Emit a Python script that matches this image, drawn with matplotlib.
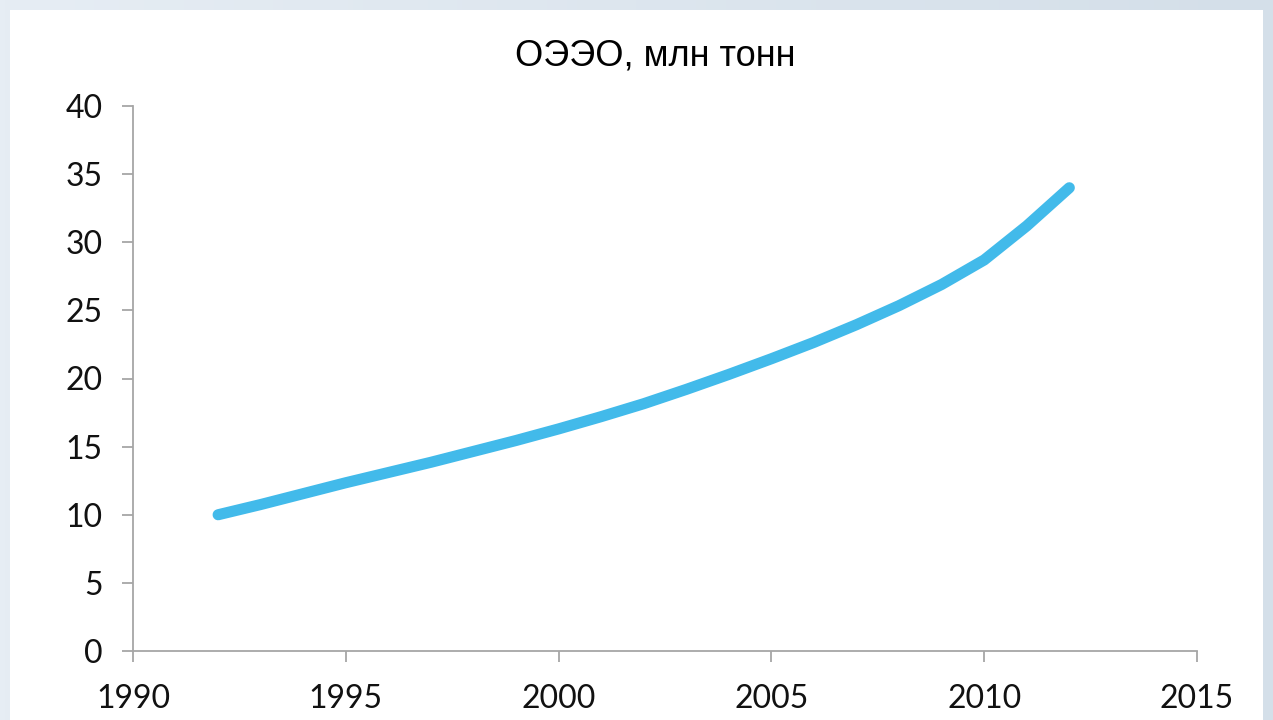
import matplotlib.pyplot as plt
from matplotlib.patches import Rectangle
import numpy as np

# ОЭЭО по годам, млн тонн
years = [1992, 1993, 1994, 1995, 1996, 1997, 1998, 1999, 2000, 2001, 2002,
         2003, 2004, 2005, 2006, 2007, 2008, 2009, 2010, 2011, 2012]
values = [10.0, 10.75, 11.55, 12.35, 13.1, 13.85, 14.65, 15.45, 16.3, 17.2, 18.15,
          19.2, 20.3, 21.45, 22.65, 23.95, 25.35, 26.9, 28.7, 31.2, 34.0]

x_ticks = [1990, 1995, 2000, 2005, 2010, 2015]
y_ticks = [0, 5, 10, 15, 20, 25, 30, 35, 40]

fig = plt.figure(figsize=(12.73, 7.2), dpi=100)
fig.patch.set_facecolor('#e3eaf2')

# top bar gradient behind the white slide area
grad = np.linspace(0, 1, 256).reshape(1, -1)
bg = fig.add_axes([0, 0, 1, 1], zorder=-2)
bg.imshow(grad, extent=[0, 1, 0, 1], aspect='auto',
          cmap=plt.matplotlib.colors.LinearSegmentedColormap.from_list('bg', ['#e6edf4', '#d4dfe9']))
bg.set_axis_off()
bg.add_patch(Rectangle((10 / 1273, 0), 1253 / 1273, 710 / 720,
                       facecolor='white', edgecolor='none', transform=bg.transAxes))

ax = fig.add_axes([133 / 1273, 1 - 651 / 720, (1197 - 133) / 1273, (651 - 106) / 720])
ax.set_facecolor('none')

ax.plot(years, values, color='#42BAEA', linewidth=8,
        solid_capstyle='round', solid_joinstyle='round')

ax.set_xlim(1990, 2015)
ax.set_ylim(0, 40)
ax.set_xticks(x_ticks)
ax.set_yticks(y_ticks)

for s in ['top', 'right']:
    ax.spines[s].set_visible(False)
for s in ['left', 'bottom']:
    ax.spines[s].set_color('#a6a6a6')
    ax.spines[s].set_linewidth(1.3)

ax.tick_params(axis='both', direction='out', length=8, width=1.3, color='#a6a6a6',
               labelsize=23, labelcolor='#111111')
ax.tick_params(axis='y', pad=14)
ax.tick_params(axis='x', pad=16)
for lab in ax.get_xticklabels() + ax.get_yticklabels():
    lab.set_fontfamily('Lato')

fig.text(655 / 1273, 1 - 56 / 720, 'ОЭЭО, млн тонн', ha='center', va='center',
         fontsize=26, family='Liberation Sans', color='black')

fig.savefig('out.png', dpi=100)
